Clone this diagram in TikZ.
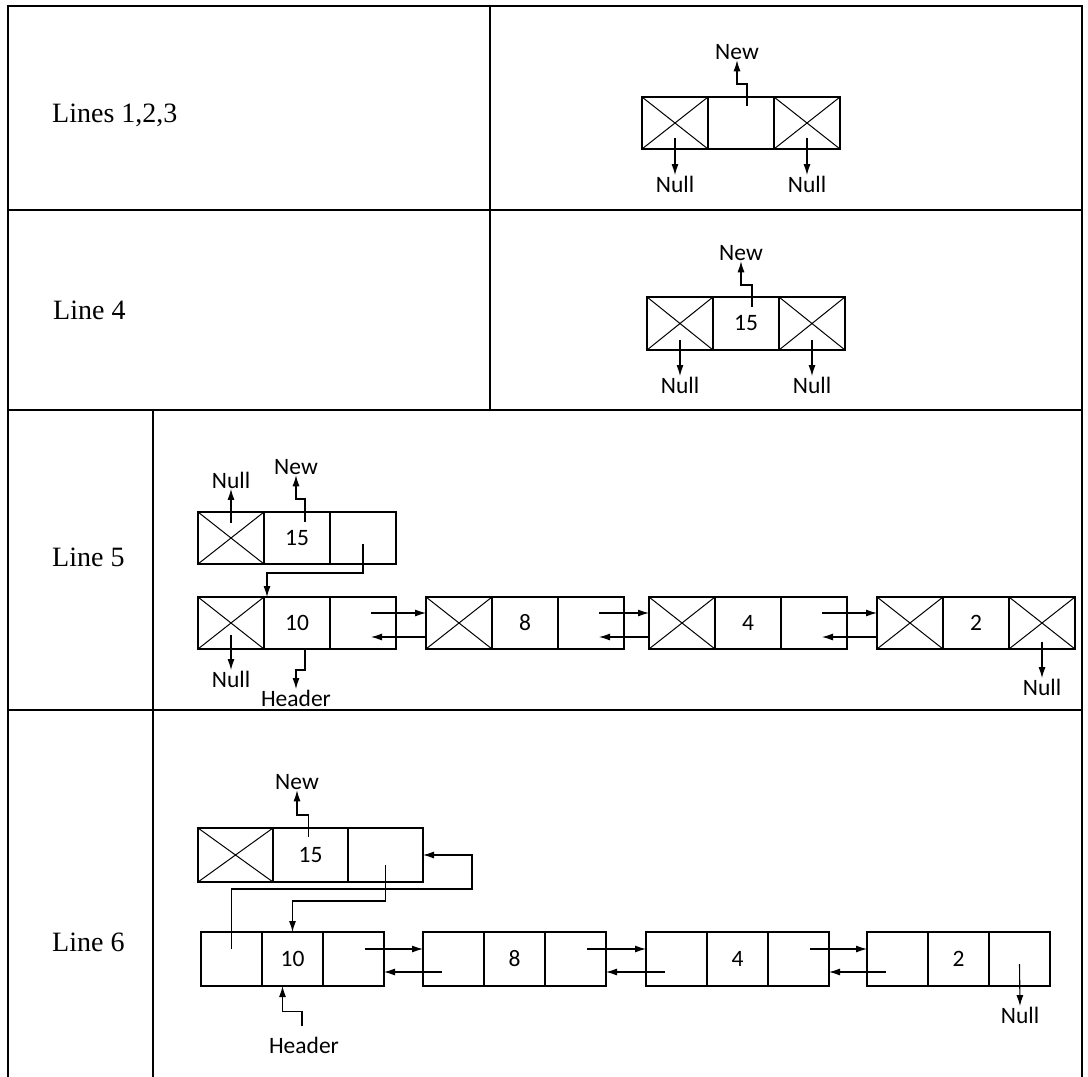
\documentclass[tikz,border=0pt]{standalone}
\usepackage{fontspec}
\setmainfont{Liberation Serif}
\newfontfamily\dgfont{Carlito}
\usetikzlibrary{arrows.meta,calc}
\tikzset{
  cell/.style={draw, line width=1.5pt, minimum width=#1, minimum height=52pt, inner sep=0pt, outer sep=0pt, anchor=north west, font=\dgfont\fontsize{23.5}{26}\selectfont},
  cell/.default=66pt,
  xcell/.style={cell=#1, path picture={\draw[line width=1pt] (path picture bounding box.north west) -- (path picture bounding box.south east) (path picture bounding box.north east) -- (path picture bounding box.south west);}},
  xcell/.default=66pt,
  ptr/.style={-{Latex[length=11pt,width=7pt]}, line width=1.1pt},
  lbl/.style={font=\dgfont\fontsize{23.5}{26}\selectfont, inner sep=0.5pt},
  rowlbl/.style={font=\fontsize{28}{32}\selectfont, anchor=base west, inner sep=0pt},
  gridline/.style={line width=1.4pt},
}
\begin{document}
\begin{tikzpicture}[x=1pt,y=-1pt]
\useasboundingbox (0,0) rectangle (1088,1077);
% table
\draw[gridline] (8,1077) -- (8,6) -- (1082,6) -- (1082,1077);
\draw[gridline] (8,210) -- (1082,210);
\draw[gridline] (8,410) -- (1082,410);
\draw[gridline] (8,710) -- (1082,710);
\draw[gridline] (490,6) -- (490,410);
\draw[gridline] (153,410) -- (153,1077);
% row labels
\node[rowlbl] (L1) at (52,122) {Lines 1,2,3};
\node[rowlbl] (L2) at (53,319) {Line 4};
\node[rowlbl] (L3) at (52,566) {Line 5};
\node[rowlbl] (L4) at (52,951) {Line 6};
% ---- row 1
\node[xcell] (r1a) at (642,97) {};
\node[cell] (r1b) at (r1a.north east) {};
\node[xcell] (r1c) at (r1b.north east) {};
\node[lbl] (n1new) at (737,52) {New};
\node[lbl] (n1l) at (675,184) {Null};
\node[lbl] (n1r) at (807,184) {Null};
\draw[ptr] ($(r1b.north)+(6,9)$) -- ++(0,-22) -| (n1new.south);
\draw[ptr] ($(r1a.center)+(0,15)$) -- (n1l.north);
\draw[ptr] ($(r1c.center)+(0,15)$) -- (n1r.north);
% ---- row 2
\node[xcell,minimum height=53pt] (r2a) at (647,297) {};
\node[cell,minimum height=53pt] (r2b) at (r2a.north east) {15};
\node[xcell,minimum height=53pt] (r2c) at (r2b.north east) {};
\node[lbl] (n2new) at (741,253) {New};
\node[lbl] (n2l) at (680,385) {Null};
\node[lbl] (n2r) at (812,385) {Null};
\draw[ptr] ($(r2b.north)+(6,10)$) -- ++(0,-22) -| (n2new.south);
\draw[ptr] ($(r2a.center)+(0,16)$) -- (n2l.north);
\draw[ptr] ($(r2c.center)+(0,16)$) -- (n2r.north);
% ---- row 3 top
\node[xcell] (t3a) at (198,512) {};
\node[cell] (t3b) at (t3a.north east) {15};
\node[cell] (t3c) at (t3b.north east) {};
\node[lbl] (n3null) at (231,480) {Null};
\node[lbl] (n3new) at (296,467) {New};
\draw[ptr] ($(t3a.center)+(0,-15)$) -- (n3null.south);
\draw[ptr] ($(t3b.north)+(8,10)$) -- ++(0,-23) -| (n3new.south);
% ---- row 3 bottom
\node[xcell] (b3a) at (198,597) {};
\node[cell] (b3b) at (b3a.north east) {10};
\node[cell] (b3c) at (b3b.north east) {};
\node[xcell] (b3d) at (426,597) {};
\node[cell] (b3e) at (b3d.north east) {8};
\node[cell] (b3f) at (b3e.north east) {};
\node[xcell] (b3g) at (649,597) {};
\node[cell] (b3h) at (b3g.north east) {4};
\node[cell] (b3i) at (b3h.north east) {};
\node[xcell] (b3j) at (877,597) {};
\node[cell] (b3k) at (b3j.north east) {2};
\node[xcell] (b3l) at (b3k.north east) {};
\draw[ptr] ($(t3c.center)+(0,6)$) -- ++(0,29) -| ($(b3b.north west)+(3,0)$);
\foreach \p/\q in {b3c/b3d, b3f/b3g, b3i/b3j}{
  \draw[ptr] ($(\p.east)+(-25,-10)$) -- ($(\q.west)+(0,-10)$);
  \draw[ptr] ($(\q.west)+(0,14)$) -- ($(\p.east)+(-25,14)$);
}
\node[lbl] (n3n2) at (231,679) {Null};
\node[lbl] (h3) at (296,698) {Header};
\node[lbl] (n3n3) at (1042,687) {Null};
\draw[ptr] ($(b3a.center)+(0,12)$) -- (n3n2.north);
\draw[ptr] ($(b3b.south)+(8,0)$) -- ++(0,21) -| (h3.north);
\draw[ptr] ($(b3l.center)+(0,19)$) -- (n3n3.north);
% ---- row 4 top
\node[xcell=75pt,minimum height=54pt] (t4a) at (198,828) {};
\node[cell=75pt,minimum height=54pt] (t4b) at (t4a.north east) {15};
\node[cell=75pt,minimum height=54pt] (t4c) at (t4b.north east) {};
\node[lbl] (n4new) at (297,782) {New};
\draw[ptr] ($(t4b.north)+(-2,9)$) -- ++(0,-22) -| (n4new.south);
% ---- row 4 bottom
\node[cell=61pt,minimum height=54pt] (b4a) at (201,932) {};
\node[cell=61pt,minimum height=54pt] (b4b) at (b4a.north east) {10};
\node[cell=61pt,minimum height=54pt] (b4c) at (b4b.north east) {};
\node[cell=61pt,minimum height=54pt] (b4d) at (423,932) {};
\node[cell=61pt,minimum height=54pt] (b4e) at (b4d.north east) {8};
\node[cell=61pt,minimum height=54pt] (b4f) at (b4e.north east) {};
\node[cell=61pt,minimum height=54pt] (b4g) at (646,932) {};
\node[cell=61pt,minimum height=54pt] (b4h) at (b4g.north east) {4};
\node[cell=61pt,minimum height=54pt] (b4i) at (b4h.north east) {};
\node[cell=61pt,minimum height=54pt] (b4j) at (867,932) {};
\node[cell=61pt,minimum height=54pt] (b4k) at (b4j.north east) {2};
\node[cell=61pt,minimum height=54pt] (b4l) at (b4k.north east) {};
\draw[ptr] ($(t4c.center)+(0,10)$) -- ++(0,36) -| (b4b.north);
\draw[ptr] ($(b4a.center)+(0,-10)$) |- ($(t4c.east)+(49,34)$) |- (t4c.east);
\foreach \p/\q in {b4c/b4d, b4f/b4g, b4i/b4j}{
  \draw[ptr] ($(\p.east)+(-19,-10)$) -- ($(\q.west)+(0,-10)$);
  \draw[ptr] ($(\q.west)+(19,13)$) -- ($(\p.east)+(0,13)$);
}
\node[lbl] (h4) at (304,1045) {Header};
\node[lbl] (n4n) at (1020,1015) {Null};
\draw[ptr] ($(h4.north)+(-2,-10)$) -- ++(0,-15) -| ($(b4b.south)+(-10,0)$);
\draw[ptr] ($(b4l.center)+(0,5)$) -- (n4n.north);
\end{tikzpicture}
\end{document}
